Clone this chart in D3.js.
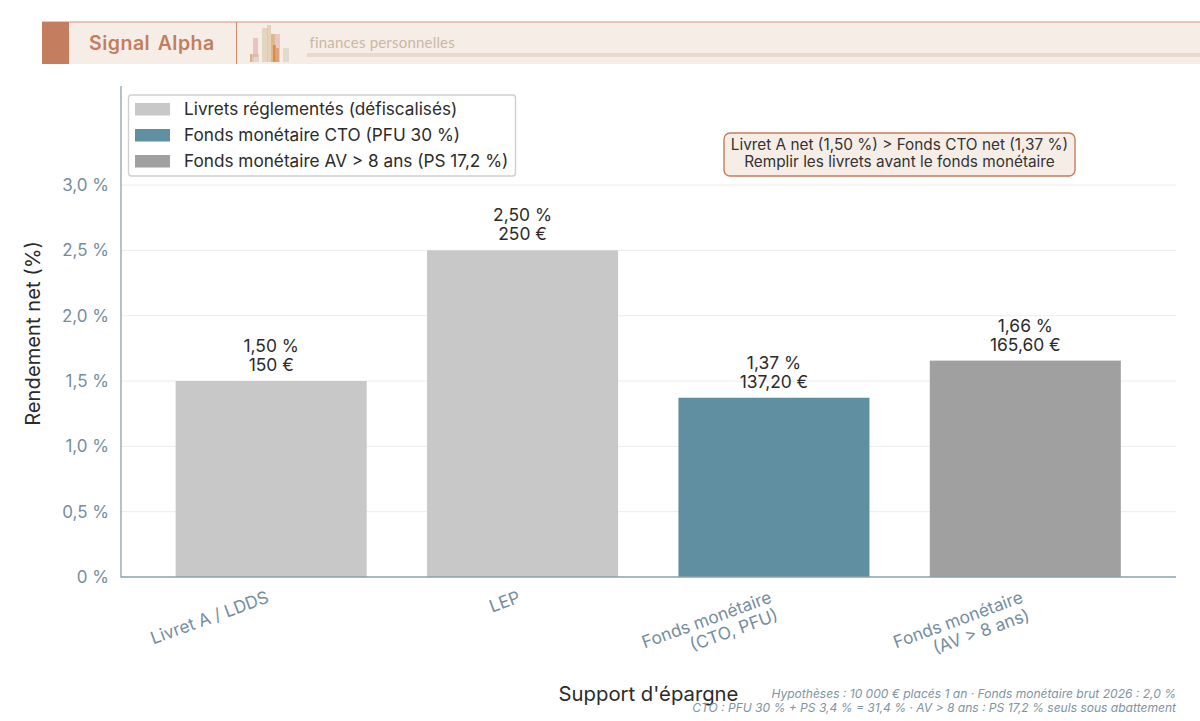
<!DOCTYPE html>
<html lang="fr">
<head>
<meta charset="utf-8">
<title>Rendement net des supports d'épargne</title>
<script src="https://cdn.jsdelivr.net/npm/d3@7/dist/d3.min.js"></script>
<style>
  html, body { margin: 0; padding: 0; background: #fff; }
  svg { display: block; }
  text { font-family: Inter, "Noto Sans", sans-serif; }
</style>
</head>
<body>
<svg id="chart" width="1200" height="721"></svg>
<script>
// Chart data
const categories = ["Livret A / LDDS", "LEP", "Fonds monétaire\n(CTO, PFU)", "Fonds monétaire\n(AV > 8 ans)"];
const netYield = [1.50, 2.50, 1.372, 1.656];
const yieldLabels = ["1,50 %", "2,50 %", "1,37 %", "1,66 %"];
const euroLabels = ["150 €", "250 €", "137,20 €", "165,60 €"];
const barColors = ["#c8c8c8", "#c8c8c8", "#5f8fa1", "#a0a0a0"];
const yTicks = [0, 0.5, 1, 1.5, 2, 2.5, 3];
const yTickLabels = ["0 %", "0,5 %", "1,0 %", "1,5 %", "2,0 %", "2,5 %", "3,0 %"];
const legendLabels = ["Livrets réglementés (défiscalisés)", "Fonds monétaire CTO (PFU 30 %)", "Fonds monétaire AV > 8 ans (PS 17,2 %)"];
const legendColors = ["#c8c8c8", "#5f8fa1", "#a0a0a0"];
const calloutLines = ["Livret A net (1,50 %) > Fonds CTO net (1,37 %)", "Remplir les livrets avant le fonds monétaire"];
const footnoteLines = ["Hypothèses : 10 000 € placés 1 an · Fonds monétaire brut 2026 : 2,0 %", "CTO : PFU 30 % + PS 3,4 % = 31,4 % · AV > 8 ans : PS 17,2 % seuls sous abattement"];

// Small bar emblem in the banner: [left, top, width, height, colour, opacity]
const emblemBars = [
  [250, 54, 4, 8, "#d98a4e", 0.65], [252, 54, 7, 8, "#d8d2c4", 0.8], [253, 38, 5, 19, "#dd9a96", 0.5],
  [262, 28, 6, 34, "#dccdb4", 0.75], [267, 25, 4, 37, "#dcc5a0", 0.65], [271, 34, 4, 28, "#cf9a5c", 0.65],
  [273, 45, 3, 17, "#d9791f", 0.7], [275, 34, 5, 28, "#dd9a96", 0.45], [276, 48, 3, 14, "#d98a4e", 0.6],
  [283, 48, 6, 14, "#d8d2c4", 0.7]
];

const svg = d3.select("#chart");
const INK = "#2b2b2b", AXIS = "#8aa0ae", TICK = "#738e9f", TERRA = "#c47d5e";

// Banner
const banner = svg.append("g");
banner.append("rect").attr("x", 42).attr("y", 22).attr("width", 1158).attr("height", 42).attr("fill", "#f6ede7");
banner.append("rect").attr("x", 42).attr("y", 21.5).attr("width", 1158).attr("height", 1).attr("fill", "#d49379");
banner.append("rect").attr("x", 42).attr("y", 22).attr("width", 27).attr("height", 42).attr("fill", TERRA);
banner.append("rect").attr("x", 236).attr("y", 22).attr("width", 1).attr("height", 42).attr("fill", "#d0896b");
banner.append("text").attr("x", 89).attr("y", 49.5).attr("font-size", 19.5).attr("font-weight", 600)
  .attr("letter-spacing", "0.5").attr("word-spacing", "2").attr("fill", TERRA).text("Signal Alpha");
banner.append("g").selectAll("rect").data(emblemBars).join("rect")
  .attr("x", d => d[0]).attr("y", d => d[1]).attr("width", d => d[2]).attr("height", d => d[3])
  .attr("fill", d => d[4]).attr("opacity", d => d[5]);
banner.append("text").attr("x", 309.5).attr("y", 47.5).attr("font-size", 15).attr("fill", "#cbb8a2")
  .style("font-family", "Lato, Inter, sans-serif").attr("letter-spacing", "0.2").text("finances personnelles");
banner.append("rect").attr("x", 307).attr("y", 53).attr("width", 893).attr("height", 4).attr("fill", "#e8dacb");

// Scales
const x = d3.scaleBand().domain(categories).range([145.5, 1151]).paddingInner(0.24).paddingOuter(0.12);
const plot = { left: 121, right: 1176, top: 86, bottom: 577 };
const y = d3.scaleLinear().domain([0, 3]).range([plot.bottom, 185]);

// Horizontal grid
svg.append("g").selectAll("line").data(yTicks.slice(1)).join("line")
  .attr("x1", plot.left).attr("x2", plot.right).attr("y1", d => y(d)).attr("y2", d => y(d))
  .attr("stroke", "#ececec").attr("stroke-width", 1);

// Bars
svg.append("g").selectAll("rect").data(categories).join("rect")
  .attr("x", d => x(d)).attr("width", x.bandwidth())
  .attr("y", (d, i) => y(netYield[i])).attr("height", (d, i) => y(0) - y(netYield[i]))
  .attr("fill", (d, i) => barColors[i]);

// Value labels above each bar
const valueLabels = svg.append("g").attr("text-anchor", "middle").attr("font-size", 17.4).attr("fill", INK);
categories.forEach((c, i) => {
  const cx = x(c) + x.bandwidth() / 2, top = y(netYield[i]);
  valueLabels.append("text").attr("x", cx).attr("y", top - 29).text(yieldLabels[i]);
  valueLabels.append("text").attr("x", cx).attr("y", top - 10).text(euroLabels[i]);
});

// Y axis
const yAxis = d3.axisLeft(y).tickValues(yTicks).tickFormat((d, i) => yTickLabels[i]).tickSize(0).tickPadding(12);
const yG = svg.append("g").attr("transform", `translate(${plot.left},0)`).call(yAxis);
yG.select(".domain").remove();
yG.selectAll("text").attr("font-size", 17).attr("fill", TICK).style("font-family", "Inter, sans-serif");

svg.append("line").attr("x1", plot.left).attr("x2", plot.left).attr("y1", plot.top).attr("y2", plot.bottom + 0.5)
  .attr("stroke", AXIS).attr("stroke-width", 1.3);
svg.append("line").attr("x1", plot.left).attr("x2", plot.right).attr("y1", plot.bottom).attr("y2", plot.bottom)
  .attr("stroke", AXIS).attr("stroke-width", 1.3);

// Slanted category labels: lines are flush right, ending under the bar's centre
const catG = svg.append("g").attr("font-size", 17.3).attr("fill", TICK).attr("text-anchor", "end");
categories.forEach(c => {
  const cx = x(c) + x.bandwidth() / 2;
  const g = catG.append("g").attr("transform", `translate(${cx - 7},586) rotate(-20)`);
  c.split("\n").forEach((p, i) => g.append("text").attr("x", 0).attr("y", 17 + i * 19).text(p));
});

// Axis titles
svg.append("text").attr("transform", "translate(40,333.5) rotate(-90)").attr("text-anchor", "middle")
  .attr("font-size", 20.2).attr("fill", INK).text("Rendement net (%)");
svg.append("text").attr("x", 648.5).attr("y", 700.5).attr("text-anchor", "middle")
  .attr("font-size", 20.3).attr("fill", INK).text("Support d'épargne");

// Legend
const legend = svg.append("g");
legend.append("rect").attr("x", 128.5).attr("y", 95).attr("width", 387).attr("height", 81).attr("rx", 3)
  .attr("fill", "#fff").attr("stroke", "#cfcfcf").attr("stroke-width", 1.4);
legendLabels.forEach((label, i) => {
  const rowY = 109.5 + i * 26;
  legend.append("rect").attr("x", 135).attr("y", rowY - 6.5).attr("width", 35).attr("height", 12.5).attr("fill", legendColors[i]);
  legend.append("text").attr("x", 184).attr("y", rowY + 5.5).attr("font-size", 17.2).attr("fill", INK).text(label);
});

// Callout box
const callout = svg.append("g");
callout.append("rect").attr("x", 724).attr("y", 133).attr("width", 351).attr("height", 43).attr("rx", 6)
  .attr("fill", "#f6ede7").attr("stroke", TERRA).attr("stroke-width", 1.4);
calloutLines.forEach((line, i) => callout.append("text").attr("x", 899.5).attr("y", 150 + i * 17)
  .attr("text-anchor", "middle").attr("font-size", 15.35).attr("fill", "#333").text(line));

// Footnote
const foot = svg.append("g").attr("text-anchor", "end").attr("font-size", 12.05).attr("font-style", "italic").attr("fill", "#7d95a3");
footnoteLines.forEach((line, i) => foot.append("text").attr("x", 1176).attr("y", 698 + i * 14).text(line));
</script>
</body>
</html>
